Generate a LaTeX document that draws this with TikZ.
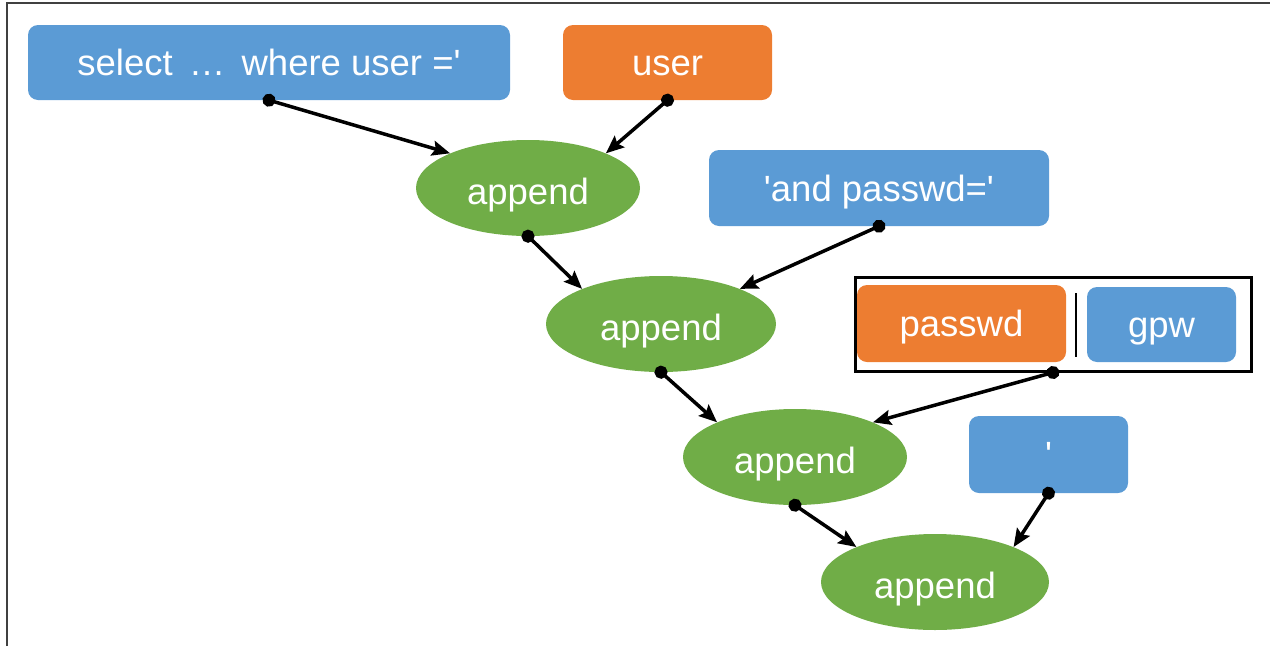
\documentclass[tikz,border=0pt]{standalone}
\usepackage{fontspec}
\setmainfont{Liberation Sans}[Ligatures=TeXOff]
\usetikzlibrary{shapes.geometric,arrows.meta}
\definecolor{boxblue}{HTML}{5B9BD5}
\definecolor{boxorange}{HTML}{ED7D31}
\definecolor{opgreen}{HTML}{70AD47}
\tikzset{
  lit/.style={rectangle, rounded corners=10pt, fill=boxblue, text=white,
    inner sep=0pt, text height=26pt, text depth=0pt,
    font=\fontsize{36.5}{43}\selectfont},
  taint/.style={lit, fill=boxorange},
  op/.style={ellipse, fill=opgreen, text=white, inner sep=0pt,
    text height=32pt, text depth=0pt,
    minimum width=224pt, minimum height=96pt, font=\fontsize{36.5}{43}\selectfont},
  flow/.style={line width=3.5pt, shorten <=-6.5pt,
    {Circle[length=13pt]}-{Stealth[length=18pt,width=15pt,inset=3pt]}},
}
\begin{document}
\begin{tikzpicture}[x=1pt,y=-1pt]
\useasboundingbox (0,0) rectangle (1270,646);
% slide border
\draw[line width=2pt, black!75] (7,646) -- (7,3) -- (1270,3);

% literal and tainted inputs
\node[lit, minimum width=482pt, minimum height=75pt] (sel) at (269,62.5) {select \,…\, where user ='};
\node[taint, minimum width=209pt, minimum height=75pt] (user) at (667.5,62.5) {user};
\node[lit, minimum width=340pt, minimum height=76pt] (andpw) at (879,188) {'and passwd='};
\node[draw, line width=3pt, minimum width=396pt, minimum height=94pt, inner sep=0pt] (choice) at (1053,324) {};
\node[taint, minimum width=209pt, minimum height=77pt] (pw) at (961.5,323.5) {passwd};
\node[lit, minimum width=149pt, minimum height=75pt] (gpw) at (1161.5,324.5) {gpw};
\coordinate (sepTop) at (1076,293);
\coordinate (sepBot) at (1076,357);
\draw[line width=1.5pt] (sepTop) -- (sepBot);
\node[lit, minimum width=159pt, minimum height=77pt] (quote) at (1048.5,454.5) {'};

% append operations
\node[op] (a1) at (528,188) {append};
\node[op, minimum width=230pt] (a2) at (661,324) {append};
\node[op] (a3) at (795,457) {append};
\node[op, minimum width=228pt] (a4) at (935,582) {append};

% data flow
\draw[flow] (sel.south) -- (a1.156);
\draw[flow] (user.south) -- (a1.24);
\draw[flow] (a1.south) -- (a2.156);
\draw[flow] (andpw.south) -- (a2.24);
\draw[flow] (a2.south) -- (a3.156);
\draw[flow] (choice.south) -- (a3.24);
\draw[flow] (a3.south) -- (a4.156);
\draw[flow] (quote.south) -- (a4.24);
\end{tikzpicture}
\end{document}
